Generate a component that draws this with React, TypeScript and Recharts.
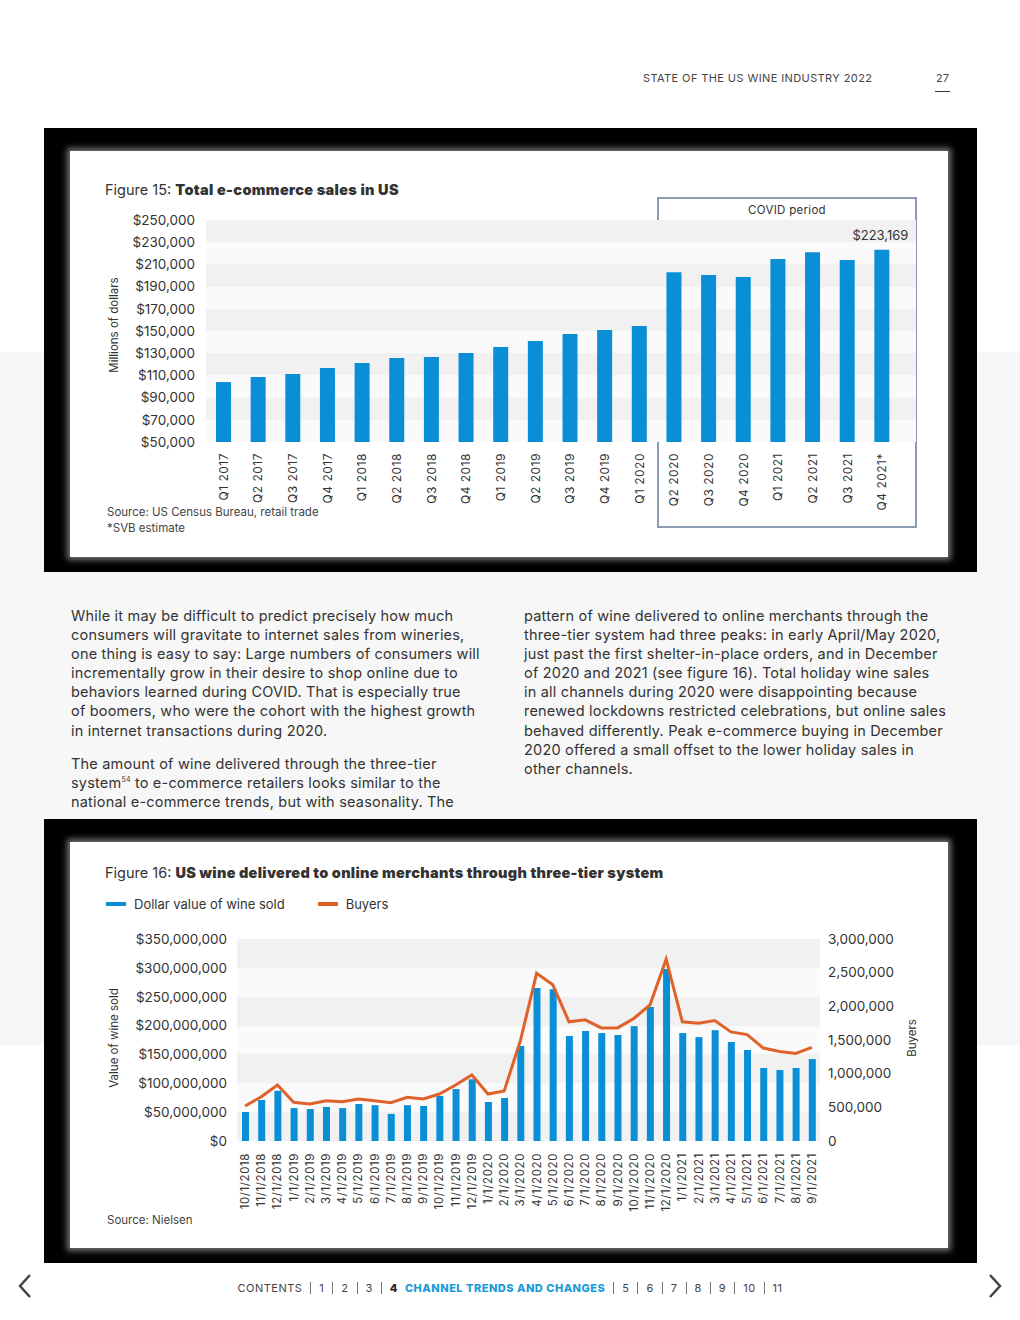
import React from 'react'
import {
  Bar,
  BarChart,
  CartesianGrid,
  ComposedChart,
  LabelList,
  Legend,
  Line,
  XAxis,
  YAxis,
} from 'recharts'

const FONT = 'Inter, "Noto Sans", sans-serif'
const BLUE = '#0a8fd6'
const ORANGE = '#e0622b'
const TEXT = '#333'

// Figure 15 – total e-commerce sales (millions of dollars)
const quarters = [
  'Q1 2017', 'Q2 2017', 'Q3 2017', 'Q4 2017',
  'Q1 2018', 'Q2 2018', 'Q3 2018', 'Q4 2018',
  'Q1 2019', 'Q2 2019', 'Q3 2019', 'Q4 2019',
  'Q1 2020', 'Q2 2020', 'Q3 2020', 'Q4 2020',
  'Q1 2021', 'Q2 2021', 'Q3 2021', 'Q4 2021*',
]
const ecommerceSales = [
  104000, 108600, 111300, 116700,
  121200, 125700, 126600, 130200,
  135600, 141000, 147300, 150900,
  154500, 203000, 200500, 198600,
  214900, 221000, 214000, 223169,
]
const salesTicks = [50000, 70000, 90000, 110000, 130000, 150000, 170000, 190000, 210000, 230000, 250000]

// Figure 16 – wine delivered to online merchants
const months = [
  '10/1/2018', '11/1/2018', '12/1/2018',
  '1/1/2019', '2/1/2019', '3/1/2019', '4/1/2019', '5/1/2019', '6/1/2019',
  '7/1/2019', '8/1/2019', '9/1/2019', '10/1/2019', '11/1/2019', '12/1/2019',
  '1/1/2020', '2/1/2020', '3/1/2020', '4/1/2020', '5/1/2020', '6/1/2020',
  '7/1/2020', '8/1/2020', '9/1/2020', '10/1/2020', '11/1/2020', '12/1/2020',
  '1/1/2021', '2/1/2021', '3/1/2021', '4/1/2021', '5/1/2021', '6/1/2021',
  '7/1/2021', '8/1/2021', '9/1/2021',
]
const wineValue = [
  50200000, 71000000, 87000000,
  57000000, 55400000, 59000000, 57000000, 64000000, 62000000,
  47000000, 62000000, 60600000, 78000000, 90000000, 107000000,
  67600000, 74500000, 164600000, 265000000, 263000000, 182000000,
  190600000, 187000000, 183700000, 199000000, 232000000, 298000000,
  187000000, 180000000, 192000000, 171500000, 157700000, 126500000,
  123000000, 126500000, 142000000,
]
const wineBuyers = [
  520000, 658000, 832000,
  575000, 550000, 598000, 584000, 624000, 598000,
  569000, 649000, 624000, 698000, 832000, 980000,
  698000, 743000, 1490000, 2490000, 2320000, 1770000,
  1800000, 1680000, 1680000, 1820000, 2020000, 2700000,
  1770000, 1750000, 1790000, 1620000, 1580000, 1380000,
  1330000, 1300000, 1390000,
]
const valueTicks = [0, 50000000, 100000000, 150000000, 200000000, 250000000, 300000000, 350000000]
const buyerTicks = [0, 500000, 1000000, 1500000, 2000000, 2500000, 3000000]

const salesData = quarters.map((q, i) => ({ quarter: q, sales: ecommerceSales[i] }))
const wineData = months.map((m, i) => ({ month: m, value: wineValue[i], buyers: wineBuyers[i] }))

const leftLines = [
  'While it may be difficult to predict precisely how much',
  'consumers will gravitate to internet sales from wineries,',
  'one thing is easy to say: Large numbers of consumers will',
  'incrementally grow in their desire to shop online due to',
  'behaviors learned during COVID. That is especially true',
  'of boomers, who were the cohort with the highest growth',
  'in internet transactions during 2020.',
]
const leftLines2 = [
  'The amount of wine delivered through the three-tier',
  'SUP',
  'national e-commerce trends, but with seasonality. The',
]
const rightLines = [
  'pattern of wine delivered to online merchants through the',
  'three-tier system had three peaks: in early April/May 2020,',
  'just past the first shelter-in-place orders, and in December',
  'of 2020 and 2021 (see figure 16). Total holiday wine sales',
  'in all channels during 2020 were disappointing because',
  'renewed lockdowns restricted celebrations, but online sales',
  'behaved differently. Peak e-commerce buying in December',
  '2020 offered a small offset to the lower holiday sales in',
  'other channels.',
]
const navItems = ['1', '2', '3']
const navItemsAfter = ['5', '6', '7', '8', '9', '10', '11']

const dollars = (v: number) => '$' + v.toLocaleString('en-US')
const plain = (v: number) => v.toLocaleString('en-US')

function RotatedTick(props: any) {
  const { x, y, payload, fontSize, spacing } = props
  return (
    <text
      transform={`translate(${x},${y}) rotate(-90)`}
      textAnchor="end"
      dominantBaseline="central"
      fontSize={fontSize}
      fontFamily={FONT}
      letterSpacing={spacing}
      fill={TEXT}
    >
      {payload.value}
    </text>
  )
}

function LastBarLabel(props: any) {
  const { x, y, width, index, value } = props
  if (index !== quarters.length - 1) return null
  return (
    <text x={x + width + 19} y={y - 10} textAnchor="end" fontSize={13} fontFamily={FONT} fill={TEXT}>
      {dollars(value)}
    </text>
  )
}

function WineLegend(props: any) {
  // bar series first, then the line
  const items = [...(props.payload || [])].sort((a: any, b: any) => (a.type === 'line' ? 1 : 0) - (b.type === 'line' ? 1 : 0))
  return (
    <div style={{ display: 'flex', fontFamily: FONT, fontSize: 13, color: TEXT }}>
      {items.map((p: any, i: number) => (
        <div key={i} style={{ display: 'flex', alignItems: 'center', marginRight: 33 }}>
          <span style={{ display: 'inline-block', width: 20, height: 4, background: p.color, marginRight: 8 }} />
          <span>{p.value}</span>
        </div>
      ))}
    </div>
  )
}

function RotatedTitle({ x, y, text }: { x: number; y: number; text: string }) {
  return (
    <div style={{ position: 'absolute', left: x, top: y, width: 0, height: 0 }}>
      <div
        style={{
          position: 'absolute',
          whiteSpace: 'nowrap',
          fontSize: 11.5,
          color: TEXT,
          transform: 'translate(-50%, -50%) rotate(-90deg)',
        }}
      >
        {text}
      </div>
    </div>
  )
}

function Frame({ top }: { top: number }) {
  return (
    <>
      <div style={{ position: 'absolute', left: 44, top, width: 933, height: 444, background: '#000' }} />
      <div
        style={{
          position: 'absolute',
          left: 70,
          top: top + 23,
          width: 878,
          height: 406,
          background: '#fff',
          boxShadow: '0 0 6px 3px rgba(255,255,255,0.45)',
        }}
      />
    </>
  )
}

const sep = <span style={{ display: 'inline-block', width: 1, height: 12, background: '#777', margin: '0 8px' }} />
const bodyStyle: React.CSSProperties = {
  position: 'absolute',
  top: 606,
  fontSize: 14.5,
  lineHeight: '19.1px',
  letterSpacing: 0.2,
  whiteSpace: 'nowrap',
}

export default function App() {
  return (
    <div
      style={{
        position: 'absolute',
        left: 0,
        top: 0,
        width: 1020,
        height: 1320,
        background: '#fff',
        overflow: 'hidden',
        fontFamily: FONT,
        color: TEXT,
      }}
    >
      <div style={{ position: 'absolute', left: 0, top: 352, width: 1020, height: 693, background: '#f7f7f7' }} />

      {/* header */}
      <div style={{ position: 'absolute', left: 643, top: 71, fontSize: 11, letterSpacing: 0.4, color: '#444', whiteSpace: 'nowrap' }}>
        STATE OF THE US WINE INDUSTRY 2022
      </div>
      <div style={{ position: 'absolute', left: 936, top: 71, fontSize: 11, color: '#444' }}>27</div>
      <div style={{ position: 'absolute', left: 935, top: 91, width: 15, height: 1, background: '#333' }} />

      {/* Figure 15 */}
      <Frame top={128} />
      <div style={{ position: 'absolute', left: 105, top: 181, fontSize: 14.5, whiteSpace: 'nowrap' }}>
        Figure 15: <b style={{ fontWeight: 900, letterSpacing: 0.35 }}>Total e-commerce sales in US</b>
      </div>
      <RotatedTitle x={114} y={325} text="Millions of dollars" />
      <div
        style={{
          position: 'absolute',
          left: 657,
          top: 197,
          width: 256,
          height: 327,
          border: '2px solid #8b9bb1',
        }}
      />
      <div style={{ position: 'absolute', left: 659, width: 256, top: 203, textAlign: 'center', fontSize: 11.5, letterSpacing: 0.3 }}>
        COVID period
      </div>
      <div style={{ position: 'absolute', left: 100, top: 200, width: 830, height: 320 }}>
        <BarChart width={830} height={320} data={salesData} margin={{ top: 20, right: 14, bottom: 0, left: 0 }}>
          <CartesianGrid vertical={false} stroke="none" syncWithTicks horizontalFill={['#f1f1f1', '#fafafa']} />
          <XAxis
            dataKey="quarter"
            axisLine={false}
            tickLine={false}
            tickSize={0}
            tickMargin={11}
            interval={0}
            height={78}
            padding={{ left: 0, right: 17 }}
            tick={<RotatedTick fontSize={12} spacing={0.5} />}
          />
          <YAxis
            domain={[50000, 250000]}
            ticks={salesTicks}
            interval={0}
            width={106}
            axisLine={false}
            tickLine={false}
            tickSize={0}
            tickMargin={11}
            tickFormatter={dollars}
            tick={{ fontSize: 13.5, fill: TEXT, fontFamily: FONT }}
          />
          <Bar dataKey="sales" fill={BLUE} barSize={15} isAnimationActive={false}>
            <LabelList dataKey="sales" content={<LastBarLabel />} />
          </Bar>
        </BarChart>
      </div>
      <div style={{ position: 'absolute', left: 107, top: 504, fontSize: 11.5, color: '#444', lineHeight: '16px' }}>
        Source: US Census Bureau, retail trade
        <br />
        *SVB estimate
      </div>

      {/* body text */}
      <div style={{ ...bodyStyle, left: 71 }}>
        {leftLines.map((l, i) => (
          <div key={i}>{l}</div>
        ))}
        <div style={{ height: 14 }} />
        {leftLines2.map((l, i) =>
          l === 'SUP' ? (
            <div key={i}>
              system
              <span style={{ fontSize: 7, position: 'relative', top: -6, lineHeight: 0 }}>54</span> to e-commerce
              retailers looks similar to the
            </div>
          ) : (
            <div key={i}>{l}</div>
          ),
        )}
      </div>
      <div style={{ ...bodyStyle, left: 524 }}>
        {rightLines.map((l, i) => (
          <div key={i}>{l}</div>
        ))}
      </div>

      {/* Figure 16 */}
      <Frame top={819} />
      <div style={{ position: 'absolute', left: 105, top: 864, fontSize: 14.5, whiteSpace: 'nowrap' }}>
        Figure 16:{' '}
        <b style={{ fontWeight: 900, letterSpacing: 0.3 }}>US wine delivered to online merchants through three-tier system</b>
      </div>
      <RotatedTitle x={114} y={1038} text="Value of wine sold" />
      <RotatedTitle x={912} y={1038} text="Buyers" />
      <div style={{ position: 'absolute', left: 100, top: 890, width: 840, height: 330 }}>
        <ComposedChart width={840} height={330} data={wineData} margin={{ top: 49, right: 10, bottom: 0, left: 0 }}>
          <CartesianGrid
            yAxisId="value"
            vertical={false}
            stroke="none"
            syncWithTicks
            horizontalFill={['#f1f1f1', '#fafafa']}
          />
          <XAxis
            dataKey="month"
            axisLine={false}
            tickLine={false}
            tickSize={0}
            tickMargin={12}
            interval={0}
            height={79}
            tick={<RotatedTick fontSize={11.5} spacing={0.6} />}
          />
          <YAxis
            yAxisId="value"
            domain={[0, 350000000]}
            ticks={valueTicks}
            interval={0}
            width={137}
            axisLine={false}
            tickLine={false}
            tickSize={0}
            tickMargin={10}
            tickFormatter={dollars}
            tick={{ fontSize: 13.5, fill: TEXT, fontFamily: FONT }}
          />
          <YAxis
            yAxisId="buyers"
            orientation="right"
            domain={[0, 3000000]}
            ticks={buyerTicks}
            interval={0}
            width={110}
            axisLine={false}
            tickLine={false}
            tickSize={0}
            tickMargin={8}
            tickFormatter={plain}
            tick={{ fontSize: 13.5, fill: TEXT, fontFamily: FONT }}
          />
          <Legend
            layout="horizontal"
            verticalAlign="middle"
            align="center"
            wrapperStyle={{ top: 6, left: 6, width: 'auto' }}
            content={<WineLegend />}
          />
          <Bar yAxisId="value" dataKey="value" name="Dollar value of wine sold" fill={BLUE} barSize={7} isAnimationActive={false} />
          <Line
            yAxisId="buyers"
            dataKey="buyers"
            name="Buyers"
            type="linear"
            stroke={ORANGE}
            strokeWidth={3}
            dot={false}
            isAnimationActive={false}
          />
        </ComposedChart>
      </div>
      <div style={{ position: 'absolute', left: 107, top: 1213, fontSize: 11.5, color: '#444' }}>Source: Nielsen</div>

      {/* footer */}
      <div
        style={{
          position: 'absolute',
          left: 0,
          top: 1281,
          width: 1020,
          display: 'flex',
          justifyContent: 'center',
          alignItems: 'center',
          fontSize: 11,
          letterSpacing: 0.5,
          color: '#444',
        }}
      >
        <span>CONTENTS</span>
        {navItems.map((n) => (
          <React.Fragment key={n}>
            {sep}
            <span>{n}</span>
          </React.Fragment>
        ))}
        {sep}
        <span style={{ fontWeight: 800, color: '#222', marginRight: 7 }}>4</span>
        <span style={{ fontWeight: 800, color: '#1b9bd7' }}>CHANNEL TRENDS AND CHANGES</span>
        {navItemsAfter.map((n) => (
          <React.Fragment key={n}>
            {sep}
            <span>{n}</span>
          </React.Fragment>
        ))}
      </div>
      <svg style={{ position: 'absolute', left: 0, top: 1270 }} width={1020} height={40}>
        <polyline points="30,5 20,16 30,27" fill="none" stroke="#444" strokeWidth={2.5} />
        <polyline points="990,5 1000,16 990,27" fill="none" stroke="#444" strokeWidth={2.5} />
      </svg>
    </div>
  )
}
